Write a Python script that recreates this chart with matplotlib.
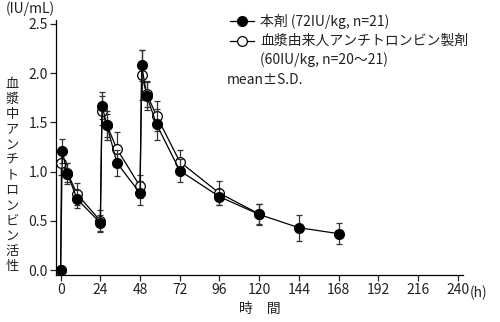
import matplotlib
matplotlib.use("Agg")
import matplotlib.pyplot as plt
import matplotlib.transforms as mtransforms

plt.rcParams['font.family'] = ['Noto Sans CJK JP', 'DejaVu Sans']

# Solid: 本剤 (72IU/kg)
t_a = [0, 1, 4, 10, 24, 25, 28, 34, 48, 49, 52, 58, 72, 96, 120, 144, 168]
v_a = [0.0, 1.21, 0.98, 0.72, 0.48, 1.67, 1.47, 1.09, 0.78, 2.08, 1.77, 1.48, 1.01, 0.745, 0.565, 0.43, 0.37]
sd_a = [0.0, 0.12, 0.11, 0.09, 0.08, 0.14, 0.15, 0.13, 0.12, 0.16, 0.14, 0.16, 0.12, 0.08, 0.11, 0.13, 0.11]

# Open: 血漿由来人アンチトロンビン製剤 (60IU/kg)
t_b = [0, 0.5, 4, 10, 24, 25, 28, 34, 48, 49, 52, 58, 72, 96, 120]
v_b = [0.0, 1.09, 0.99, 0.77, 0.50, 1.62, 1.47, 1.23, 0.85, 1.98, 1.79, 1.565, 1.10, 0.78, 0.57]
sd_b = [0.0, 0.12, 0.10, 0.11, 0.11, 0.15, 0.12, 0.17, 0.12, 0.25, 0.13, 0.15, 0.12, 0.12, 0.10]

x_ticks = [0, 24, 48, 72, 96, 120, 144, 168, 192, 216, 240]
y_ticks = [0.0, 0.5, 1.0, 1.5, 2.0, 2.5]

label_a = "本剤 (72IU/kg, n=21)"
label_b1 = "血漿由来人アンチトロンビン製剤"
label_b2 = "(60IU/kg, n=20〜21)"

fig = plt.figure(figsize=(5.0, 3.22), dpi=100)
ax = fig.add_axes([0.112, 0.146, 0.814, 0.792])

ax.errorbar(t_b, v_b, yerr=sd_b, fmt='-o', color='black', ecolor='#333333',
            elinewidth=0.9, capsize=2.5, capthick=0.9, lw=0.9,
            markerfacecolor='white', markeredgecolor='black', markersize=7,
            markeredgewidth=0.9, zorder=2)
ax.errorbar(t_a, v_a, yerr=sd_a, fmt='-o', color='black', ecolor='#333333',
            elinewidth=0.9, capsize=2.5, capthick=0.9, lw=0.9,
            markerfacecolor='black', markeredgecolor='black', markersize=7,
            zorder=3)

ax.set_xlim(-2.8, 243.2)
ax.set_ylim(-0.05, 2.54)
ax.set_xticks(x_ticks)
ax.set_xticklabels([str(x) for x in x_ticks])
ax.set_yticks(y_ticks)
ax.set_yticklabels([f"{y:.1f}" for y in y_ticks])
for s in ['top', 'right']:
    ax.spines[s].set_visible(False)
for s in ['left', 'bottom']:
    ax.spines[s].set_linewidth(0.9)
ax.tick_params(direction='out', length=4, width=0.9, labelsize=10, colors='#222222', pad=2)

# units
fig.text(0.012, 0.972, "(IU/mL)", fontsize=10, ha='left', va='center', color='#222222')
trans = mtransforms.blended_transform_factory(ax.transData, ax.transAxes)
ax.text(247.0, -0.072, "(h)", transform=trans, fontsize=10, ha='left', va='center',
        color='#222222', clip_on=False)
ax.set_xlabel("時　間", fontsize=10, labelpad=3, color='#222222')

# vertical y label
ylabel = "血漿中アンチトロンビン活性"
fig.text(0.024, 0.455, "\n".join(ylabel), fontsize=9.5, ha='center', va='center',
         linespacing=1.22, color='#222222')

# legend (manual)
lx0, lx1 = 0.460, 0.508
fig.lines.append(plt.Line2D([lx0, lx1], [1-21/322, 1-21/322], transform=fig.transFigure, color='black', lw=0.9))
fig.lines.append(plt.Line2D([(lx0+lx1)/2], [1-21/322], transform=fig.transFigure, marker='o',
                            markersize=7, color='black', markerfacecolor='black'))
fig.lines.append(plt.Line2D([lx0, lx1], [1-41/322, 1-41/322], transform=fig.transFigure, color='black', lw=0.9))
fig.lines.append(plt.Line2D([(lx0+lx1)/2], [1-41/322], transform=fig.transFigure, marker='o',
                            markersize=7, color='black', markerfacecolor='white', markeredgewidth=0.9))
fig.text(0.52, 1-21/322, label_a, fontsize=10, ha='left', va='center', color='#222222')
fig.text(0.52, 1-41/322, label_b1, fontsize=10, ha='left', va='center', color='#222222')
fig.text(0.52, 1-60/322, label_b2, fontsize=10, ha='left', va='center', color='#222222')
fig.text(0.453, 1-80/322, "mean±S.D.", fontsize=10, ha='left', va='center', color='#222222')

fig.savefig("out.png", dpi=100)
